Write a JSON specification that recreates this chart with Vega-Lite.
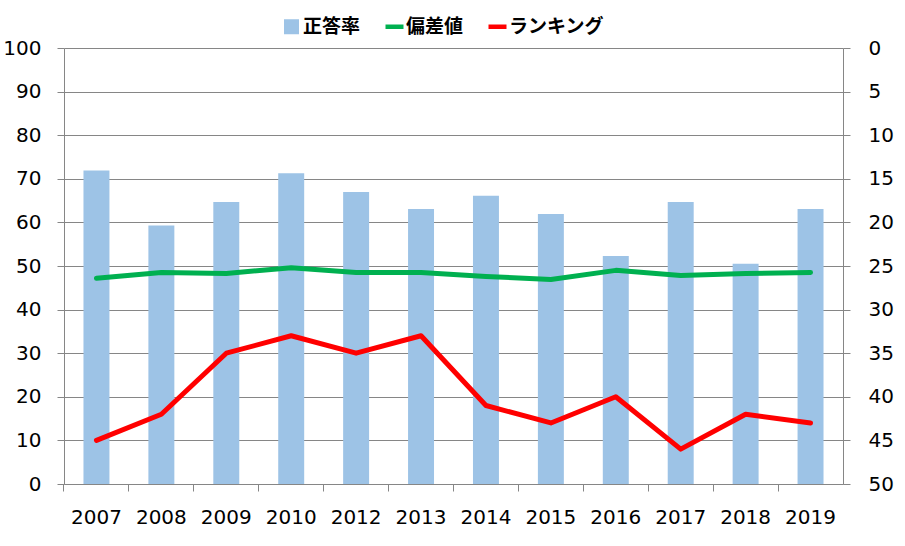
{
  "$schema": "https://vega.github.io/schema/vega-lite/v6.json",
  "width": 779,
  "height": 436,
  "autosize": {"type": "none"},
  "padding": {"left": 64, "top": 48, "right": 62, "bottom": 62},
  "background": "white",
  "config": {
    "view": {"stroke": null},
    "font": "DejaVu Sans",
    "axis": {
      "labelFont": "DejaVu Sans",
      "labelFontSize": 20,
      "labelColor": "#000000",
      "domainColor": "#868686",
      "tickColor": "#868686",
      "gridColor": "#868686",
      "tickSize": 7,
      "domainWidth": 1,
      "gridWidth": 1,
      "title": null
    }
  },
  "data": {
    "values": [
      {"year": "2007", "rate": 71.9, "dev": 47.2, "rank": 45},
      {"year": "2008", "rate": 59.3, "dev": 48.5, "rank": 42},
      {"year": "2009", "rate": 64.7, "dev": 48.3, "rank": 35},
      {"year": "2010", "rate": 71.3, "dev": 49.6, "rank": 33},
      {"year": "2012", "rate": 67.0, "dev": 48.5, "rank": 35},
      {"year": "2013", "rate": 63.1, "dev": 48.5, "rank": 33},
      {"year": "2014", "rate": 66.1, "dev": 47.6, "rank": 41},
      {"year": "2015", "rate": 61.9, "dev": 46.9, "rank": 43},
      {"year": "2016", "rate": 52.3, "dev": 49.0, "rank": 40},
      {"year": "2017", "rate": 64.7, "dev": 47.8, "rank": 46},
      {"year": "2018", "rate": 50.5, "dev": 48.3, "rank": 42},
      {"year": "2019", "rate": 63.1, "dev": 48.5, "rank": 43}
    ]
  },
  "encoding": {
    "x": {
      "field": "year",
      "type": "ordinal",
      "scale": {"paddingInner": 0.6, "paddingOuter": 0.3},
      "axis": {
        "labelAngle": 0,
        "labelPadding": 16,
        "bandPosition": -0.75,
        "domainColor": "#868686"
      }
    }
  },
  "layer": [
    {
      "layer": [
        {
          "mark": {"type": "bar", "color": "#9DC3E6"},
          "encoding": {
            "y": {
              "field": "rate",
              "type": "quantitative",
              "scale": {"domain": [0, 100], "nice": false},
              "axis": {"values": [0, 10, 20, 30, 40, 50, 60, 70, 80, 90, 100], "labelPadding": 16, "grid": true}
            },
            "color": {
              "datum": "正答率",
              "type": "nominal",
              "scale": {"domain": ["正答率", "偏差値", "ランキング"], "range": ["#9DC3E6", "#00B050", "#FF0000"]},
              "legend": {
                "orient": "none",
                "legendX": 218,
                "legendY": -31,
                "direction": "horizontal",
                "title": null,
                "labelFont": "Noto Sans CJK JP",
                "labelFontSize": 19,
                "labelFontWeight": "bold",
                "labelColor": "#000000",
                "symbolSize": 225,
                "symbolStrokeWidth": 0,
                "labelOffset": 2,
                "columnPadding": 24,
                "encode": {
                  "symbols": {
                    "update": {
                      "shape": {"signal": "datum.value === '正答率' ? 'square' : 'M-1.2,-0.3H1.2V0.3H-1.2Z'"},
                      "fillOpacity": {"value": 1},
                      "strokeWidth": {"value": 0}
                    }
                  }
                }
              }
            }
          }
        },
        {
          "mark": {"type": "line", "strokeWidth": 5, "strokeCap": "round", "strokeJoin": "round"},
          "encoding": {
            "y": {"field": "dev", "type": "quantitative", "scale": {"domain": [0, 100], "nice": false}},
            "color": {"datum": "偏差値", "type": "nominal"}
          }
        }
      ]
    },
    {
      "mark": {"type": "line", "strokeWidth": 5, "strokeCap": "round", "strokeJoin": "round"},
      "encoding": {
        "y": {
          "field": "rank",
          "type": "quantitative",
          "scale": {"domain": [0, 50], "reverse": true, "nice": false},
          "axis": {"orient": "right", "values": [0, 5, 10, 15, 20, 25, 30, 35, 40, 45, 50], "grid": false, "labelPadding": 18}
        },
        "color": {"datum": "ランキング", "type": "nominal"}
      }
    }
  ],
  "resolve": {"scale": {"y": "independent"}}
}
